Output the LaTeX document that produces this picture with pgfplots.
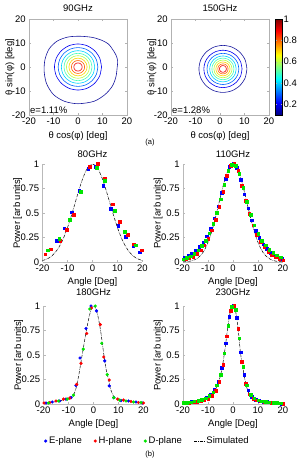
\documentclass[border=0pt]{standalone}
\usepackage{fontspec}
\setmainfont{Liberation Sans}
\usepackage{pgfplots}
\pgfplotsset{compat=1.18}
\definecolor{j1}{rgb}{0.1,0.1,0.62}
\definecolor{j2}{rgb}{0,0,0.94}
\definecolor{j3}{rgb}{0,0.39,1}
\definecolor{j4}{rgb}{0,0.83,1}
\definecolor{j5}{rgb}{0.28,1,0.72}
\definecolor{j6}{rgb}{0.72,1,0.28}
\definecolor{j7}{rgb}{1,0.83,0}
\definecolor{j8}{rgb}{1,0.39,0}
\definecolor{j9}{rgb}{0.94,0,0}
\pgfplotsset{
 /pgf/number format/assume math mode=true,
 cont/.style={scale only axis, width=98bp, height=96bp, clip=false,
  xmin=-20,xmax=20,ymin=-20,ymax=20,
  xtick={-20,-10,0,10,20}, ytick={-20,-10,0,10,20},
  tick align=inside, major tick length=2bp,
  axis line style={gray!60}, tick style={gray!60},
  xlabel={θ cos(φ) [deg]}, ylabel={θ sin(φ) [deg]},
  xlabel style={at={(axis description cs:0.5,0)}, anchor=base, yshift=-23.5bp},
  ylabel style={at={(axis description cs:-0.17,0.5)}, anchor=base},
  every axis plot/.append style={line width=0.6bp, smooth}},
 prof/.style={scale only axis, width=100bp, height=98bp,
  xmin=-20,xmax=20,ymin=0,ymax=1,
  axis x line*=bottom, axis y line*=left, tick pos=left,
  axis line style={-,gray!55}, tick style={gray!55},
  xtick={-20,-10,0,10,20}, ytick={0,0.25,0.5,0.75,1},
  yticklabels={0,0.25,0.5,0.75,1},
  tick align=inside, major tick length=2bp, clip=false,
  xlabel={Angle [Deg]}, ylabel={Power [arb units]},
  xlabel style={at={(axis description cs:0.5,0)}, anchor=base, yshift=-22.5bp},
  ylabel style={at={(axis description cs:-0.225,0.5)}, anchor=base}},
 ep/.style={only marks, mark=square*, mark size=1.3bp, blue, mark options={draw=blue, fill=blue}},
 hp/.style={only marks, mark=square*, mark size=1.3bp, red, mark options={draw=red, fill=red}},
 dp/.style={only marks, mark=square*, mark size=1.3bp, green!90!black, mark options={draw=green!90!black, fill=green!90!black}},
 sim/.style={black, densely dashdotted, line width=0.5bp, smooth, no marks},
 simleg/.style={legend image code/.code={\draw[##1] (0bp,0bp) -- (10bp,0bp);}},
}
\begin{document}
\fontsize{9.5bp}{11bp}\selectfont
\begin{tikzpicture}
\path[use as bounding box] (0,0) rectangle (300bp,459bp);
% ---------------- 90 GHz
\begin{axis}[cont, at={(29bp,344bp)}, anchor=south west]
\addplot[j1] coordinates {(16,0) (15.5,-4) (14,-8) (11,-11.5) (6.5,-14.3) (0,-15.3) (-5.5,-14.3) (-10,-11.5) (-12.8,-7) (-13.8,-2) (-13.5,3) (-11.8,7.5) (-8.5,10.8) (-4,12.5) (1,12.8) (6,12.3) (10,11) (12.5,9.5) (14,7.5) (15.5,5) (16.2,2.5) (16,0)};
\addplot[j2] coordinates {(9.6,0) (8.87,3.677) (6.787,6.787) (3.677,8.87) (0,9.6) (-3.677,8.87) (-6.787,6.787) (-8.87,3.677) (-9.6,0) (-8.87,-3.677) (-6.787,-6.787) (-3.677,-8.87) (0,-9.6) (3.677,-8.87) (6.787,-6.787) (8.87,-3.677) (9.6,0)};
\addplot[j3] coordinates {(8.1,0) (7.484,3.102) (5.727,5.727) (3.102,7.484) (0,8.1) (-3.102,7.484) (-5.727,5.727) (-7.484,3.102) (-8.1,0) (-7.484,-3.102) (-5.727,-5.727) (-3.102,-7.484) (0,-8.1) (3.102,-7.484) (5.727,-5.727) (7.484,-3.102) (8.1,0)};
\addplot[j4] coordinates {(6.8,0) (6.283,2.604) (4.808,4.808) (2.604,6.283) (0,6.8) (-2.604,6.283) (-4.808,4.808) (-6.283,2.604) (-6.8,0) (-6.283,-2.604) (-4.808,-4.808) (-2.604,-6.283) (0,-6.8) (2.604,-6.283) (4.808,-4.808) (6.283,-2.604) (6.8,0)};
\addplot[j5] coordinates {(5.7,0) (5.267,2.183) (4.03,4.03) (2.183,5.267) (0,5.7) (-2.183,5.267) (-4.03,4.03) (-5.267,2.183) (-5.7,0) (-5.267,-2.183) (-4.03,-4.03) (-2.183,-5.267) (0,-5.7) (2.183,-5.267) (4.03,-4.03) (5.267,-2.183) (5.7,0)};
\addplot[j6] coordinates {(4.7,0) (4.343,1.8) (3.323,3.323) (1.8,4.343) (0,4.7) (-1.8,4.343) (-3.323,3.323) (-4.343,1.8) (-4.7,0) (-4.343,-1.8) (-3.323,-3.323) (-1.8,-4.343) (0,-4.7) (1.8,-4.343) (3.323,-3.323) (4.343,-1.8) (4.7,0)};
\addplot[j7] coordinates {(3.7,0) (3.419,1.417) (2.616,2.616) (1.417,3.419) (0,3.7) (-1.417,3.419) (-2.616,2.616) (-3.419,1.417) (-3.7,0) (-3.419,-1.417) (-2.616,-2.616) (-1.417,-3.419) (0,-3.7) (1.417,-3.419) (2.616,-2.616) (3.419,-1.417) (3.7,0)};
\addplot[j8] coordinates {(2.7,0) (2.495,1.034) (1.909,1.909) (1.034,2.495) (0,2.7) (-1.034,2.495) (-1.909,1.909) (-2.495,1.034) (-2.7,0) (-2.495,-1.034) (-1.909,-1.909) (-1.034,-2.495) (0,-2.7) (1.034,-2.495) (1.909,-1.909) (2.495,-1.034) (2.7,0)};
\addplot[j9] coordinates {(1.7,0) (1.571,0.651) (1.202,1.202) (0.651,1.571) (0,1.7) (-0.651,1.571) (-1.202,1.202) (-1.571,0.651) (-1.7,0) (-1.571,-0.651) (-1.202,-1.202) (-0.651,-1.571) (0,-1.7) (0.651,-1.571) (1.202,-1.202) (1.571,-0.651) (1.7,0)};
\node[anchor=south west, inner sep=1bp] at (axis description cs:0,0) {e=1.11\%};
\node[anchor=base] at ([yshift=7.6bp]axis description cs:0.5,1) {90GHz};
\end{axis}
% ---------------- 150 GHz
\begin{axis}[cont, at={(171bp,344bp)}, anchor=south west,
  colorbar, colormap/jet, point meta min=0.1, point meta max=1,
  colorbar style={width=6.5bp, at={(parent axis.north east)}, anchor=north west, xshift=-2bp,
    ytick={0.2,0.4,0.6,0.8,1}, yticklabels={0.2,0.4,0.6,0.8,1},
    tick align=inside, major tick length=1.5bp, yticklabel style={inner sep=1.5bp}}]
\addplot[j1] coordinates {(11.0,-0.8) (10.26,2.95) (8.13,6.13) (4.95,8.26) (1.2,9.0) (-2.55,8.26) (-5.73,6.13) (-7.86,2.95) (-8.6,-0.8) (-7.86,-4.55) (-5.73,-7.73) (-2.55,-9.86) (1.2,-10.6) (4.95,-9.86) (8.13,-7.73) (10.26,-4.55) (11.0,-0.8)};
\addplot[j2] coordinates {(9.0,-0.8) (8.41,2.19) (6.72,4.72) (4.19,6.41) (1.2,7.0) (-1.79,6.41) (-4.32,4.72) (-6.01,2.19) (-6.6,-0.8) (-6.01,-3.79) (-4.32,-6.32) (-1.79,-8.01) (1.2,-8.6) (4.19,-8.01) (6.72,-6.32) (8.41,-3.79) (9.0,-0.8)};
\addplot[j3] coordinates {(7.7,-0.8) (7.21,1.69) (5.80,3.80) (3.69,5.21) (1.2,5.7) (-1.29,5.21) (-3.40,3.80) (-4.81,1.69) (-5.3,-0.8) (-4.81,-3.29) (-3.40,-5.40) (-1.29,-6.81) (1.2,-7.3) (3.69,-6.81) (5.80,-5.40) (7.21,-3.29) (7.7,-0.8)};
\addplot[j4] coordinates {(6.6,-0.8) (6.19,1.27) (5.02,3.02) (3.27,4.19) (1.2,4.6) (-0.87,4.19) (-2.62,3.02) (-3.79,1.27) (-4.2,-0.8) (-3.79,-2.87) (-2.62,-4.62) (-0.87,-5.79) (1.2,-6.2) (3.27,-5.79) (5.02,-4.62) (6.19,-2.87) (6.6,-0.8)};
\addplot[j5] coordinates {(5.7,-0.8) (5.36,0.92) (4.38,2.38) (2.92,3.36) (1.2,3.7) (-0.52,3.36) (-1.98,2.38) (-2.96,0.92) (-3.3,-0.8) (-2.96,-2.52) (-1.98,-3.98) (-0.52,-4.96) (1.2,-5.3) (2.92,-4.96) (4.38,-3.98) (5.36,-2.52) (5.7,-0.8)};
\addplot[j6] coordinates {(4.9,-0.8) (4.62,0.62) (3.82,1.82) (2.62,2.62) (1.2,2.9) (-0.22,2.62) (-1.42,1.82) (-2.22,0.62) (-2.5,-0.8) (-2.22,-2.22) (-1.42,-3.42) (-0.22,-4.22) (1.2,-4.5) (2.62,-4.22) (3.82,-3.42) (4.62,-2.22) (4.9,-0.8)};
\addplot[j7] coordinates {(4.1,-0.8) (3.88,0.31) (3.25,1.25) (2.31,1.88) (1.2,2.1) (0.09,1.88) (-0.85,1.25) (-1.48,0.31) (-1.7,-0.8) (-1.48,-1.91) (-0.85,-2.85) (0.09,-3.48) (1.2,-3.7) (2.31,-3.48) (3.25,-2.85) (3.88,-1.91) (4.1,-0.8)};
\addplot[j8] coordinates {(3.3,-0.8) (3.14,0.0) (2.69,0.69) (2.0,1.14) (1.2,1.3) (0.4,1.14) (-0.29,0.69) (-0.74,0.0) (-0.9,-0.8) (-0.74,-1.6) (-0.29,-2.29) (0.4,-2.74) (1.2,-2.9) (2.0,-2.74) (2.69,-2.29) (3.14,-1.6) (3.3,-0.8)};
\addplot[j9] coordinates {(2.6,-0.8) (2.49,-0.26) (2.19,0.19) (1.74,0.49) (1.2,0.6) (0.66,0.49) (0.21,0.19) (-0.09,-0.26) (-0.2,-0.8) (-0.09,-1.34) (0.21,-1.79) (0.66,-2.09) (1.2,-2.2) (1.74,-2.09) (2.19,-1.79) (2.49,-1.34) (2.6,-0.8)};
\node[anchor=south west, inner sep=1bp] at (axis description cs:0,0) {e=1.28\%};
\node[anchor=base] at ([yshift=7.6bp]axis description cs:0.5,1) {150GHz};
\end{axis}
\node[font=\fontsize{7.5bp}{9bp}\selectfont] at (150bp,316bp) {(a)};
% ---------------- 80 GHz
\begin{axis}[prof, at={(42.5bp,197bp)}, anchor=south west]
\addplot[sim] coordinates {(-20,0.015) (-18,0.033) (-16,0.068) (-14,0.128) (-12,0.22) (-10,0.35) (-8,0.511) (-6,0.685) (-4,0.845) (-2,0.959) (0,1) (2,0.959) (4,0.845) (6,0.685) (8,0.511) (10,0.35) (12,0.22) (14,0.128) (16,0.068) (18,0.033) (20,0.015)};
\addplot[ep] coordinates {(-17,0.13) (-14.3,0.22) (-11.3,0.345) (-8.3,0.51) (-5.4,0.73) (-1.8,0.95) (1.2,0.97) (4.3,0.78) (7.3,0.545) (10.3,0.37) (13.3,0.26) (16.3,0.165) (19,0.10)};
\addplot[hp] coordinates {(-19,0.08) (-16.7,0.13) (-13,0.22) (-10.4,0.33) (-7.6,0.48) (-1.1,0.97) (2,1.0) (4.9,0.85) (8,0.59) (10.9,0.41) (14,0.28) (16.6,0.18) (19.6,0.12)};
\addplot[dp] coordinates {(-18,0.12) (-13.4,0.24) (-9.1,0.43) (-4.7,0.72) (1.6,0.965) (4.9,0.83) (8.9,0.525) (12.9,0.31) (17.3,0.17)};
\node[anchor=base] at ([yshift=6.6bp]axis description cs:0.5,1) {80GHz};
\end{axis}
% ---------------- 110 GHz
\begin{axis}[prof, at={(183bp,197bp)}, anchor=south west]
\addplot[sim] coordinates {(-20,0.0016) (-18,0.0054) (-17,0.0095) (-16,0.016) (-15,0.027) (-14,0.043) (-13,0.066) (-12,0.098) (-11,0.143) (-10,0.2) (-9,0.271) (-8,0.357) (-7,0.454) (-6,0.56) (-5,0.669) (-4,0.773) (-3,0.865) (-2,0.938) (-1,0.984) (0,1) (1,0.984) (2,0.938) (3,0.865) (4,0.773) (5,0.669) (6,0.56) (7,0.454) (8,0.357) (9,0.271) (10,0.2) (11,0.143) (12,0.098) (13,0.066) (14,0.043) (15,0.027) (16,0.016) (17,0.0095) (18,0.0054) (20,0.0016)};
\addplot[ep] coordinates {(-19.5,0.05) (-18,0.065) (-16.5,0.088) (-15,0.115) (-13.5,0.155) (-12,0.2) (-10.5,0.265) (-9,0.34) (-7.5,0.445) (-6,0.57) (-4.5,0.71) (-3,0.85) (-1.5,0.97) (0,1.0) (1.5,0.96) (3,0.84) (4.5,0.69) (6,0.55) (7.5,0.425) (9,0.32) (10.5,0.245) (12,0.18) (13.5,0.135) (15,0.095) (16.5,0.068) (18,0.05) (19.5,0.035)};
\addplot[hp] coordinates {(-19,0.03) (-17.5,0.04) (-16,0.055) (-14.5,0.083) (-13,0.12) (-11.5,0.17) (-10,0.24) (-8.5,0.325) (-7,0.43) (-5.5,0.565) (-4,0.72) (-2.5,0.88) (-1,0.98) (0.5,1.0) (2,0.93) (3.5,0.78) (5,0.625) (6.5,0.49) (8,0.375) (9.5,0.28) (11,0.205) (12.5,0.15) (14,0.105) (15.5,0.07) (17,0.05) (18.5,0.035) (20,0.02)};
\addplot[dp] coordinates {(-20,0.03) (-18.5,0.045) (-17,0.06) (-15.5,0.085) (-14,0.12) (-12.5,0.165) (-11,0.22) (-9.5,0.295) (-8,0.39) (-6.5,0.505) (-5,0.64) (-3.5,0.79) (-2,0.93) (-0.5,0.995) (1,0.98) (2.5,0.9) (4,0.76) (5.5,0.615) (7,0.48) (8.5,0.375) (10,0.29) (11.5,0.22) (13,0.17) (14.5,0.128) (16,0.095) (17.5,0.07) (19,0.05)};
\node[anchor=base] at ([yshift=6.6bp]axis description cs:0.5,1) {110GHz};
\end{axis}
% ---------------- 180 GHz
\begin{axis}[prof, at={(43.5bp,55bp)}, anchor=south west,
  legend columns=4,
  legend style={at={(axis description cs:1.04,-0.378)}, anchor=center, draw=none, fill=none,
    /tikz/every even column/.append style={column sep=10bp}, inner sep=0pt},
  legend cell align=left]
\addplot[ep, mark=*, mark size=1.4bp] coordinates {(-19,0.01) (-16.5,0.02) (-13.5,0.03) (-11,0.05) (-9,0.065) (-7,0.19) (-5.4,0.47) (-3,0.77) (-1,1.0) (1.2,0.95) (4.5,0.44) (6.3,0.185) (8.1,0.065) (11,0.035) (14,0.03) (17,0.02) (19.5,0.01)};
\addlegendentry{E-plane}
\addplot[hp, mark=*, mark size=1.4bp] coordinates {(-19.8,0.01) (-17.5,0.015) (-15,0.03) (-12,0.05) (-9.5,0.06) (-6.7,0.20) (-5,0.415) (-2.7,0.72) (-0.8,0.98) (2.7,0.81) (4.1,0.48) (6.3,0.245) (9.7,0.05) (12,0.04) (15,0.025) (18,0.015) (20,0.01)};
\addlegendentry{H-plane}
\addplot[dp, mark=*, mark size=1.4bp] coordinates {(-18,0.01) (-14,0.03) (-10.5,0.05) (-8,0.09) (-4.1,0.56) (-1.5,0.97) (0.7,1.0) (3.3,0.62) (5.5,0.3) (8.1,0.065) (10.5,0.04) (13,0.03) (16,0.02) (19,0.015)};
\addlegendentry{D-plane}
\addplot[sim, simleg] coordinates {(-20,0.01) (-18,0.015) (-16,0.02) (-14,0.03) (-12,0.04) (-10,0.055) (-9,0.065) (-8,0.09) (-7,0.16) (-6,0.28) (-5,0.43) (-4,0.58) (-3,0.73) (-2,0.86) (-1,0.96) (0,1.0) (1,0.97) (2,0.87) (3,0.72) (4,0.53) (5,0.36) (6,0.25) (7,0.14) (8,0.08) (9,0.055) (10,0.045) (12,0.035) (14,0.03) (16,0.02) (18,0.015) (20,0.01)};
\addlegendentry{Simulated}
\node[anchor=base] at ([yshift=10bp]axis description cs:0.5,1) {180GHz};
\end{axis}
% ---------------- 230 GHz
\begin{axis}[prof, at={(183bp,55bp)}, anchor=south west]
\addplot[sim] coordinates {(-20,0.01) (-18,0.015) (-16,0.02) (-14,0.03) (-12,0.04) (-10,0.065) (-9,0.085) (-8,0.11) (-7,0.15) (-6,0.21) (-5,0.29) (-4,0.42) (-3,0.6) (-2,0.8) (-1,0.95) (0,1.0) (1,0.95) (2,0.78) (3,0.52) (4,0.36) (5,0.22) (6,0.13) (7,0.085) (8,0.06) (9,0.045) (10,0.035) (12,0.025) (14,0.02) (16,0.015) (18,0.01) (20,0.005)};
\addplot[ep] coordinates {(-19.5,0.015) (-18,0.02) (-16.5,0.025) (-15,0.03) (-13.5,0.04) (-12,0.05) (-10.5,0.07) (-9,0.095) (-7.5,0.145) (-6,0.23) (-4.5,0.37) (-3,0.62) (-1.5,0.89) (0,1.0) (1.5,0.88) (3,0.53) (4.5,0.30) (6,0.14) (7.5,0.075) (9,0.045) (10.5,0.033) (12,0.025) (13.5,0.021) (15,0.017) (16.5,0.013) (18,0.01) (19.5,0.006)};
\addplot[hp] coordinates {(-19,0.01) (-17.5,0.013) (-16,0.017) (-14.5,0.024) (-13,0.03) (-11.5,0.04) (-10,0.055) (-8.5,0.085) (-7,0.135) (-5.5,0.23) (-4,0.4) (-2.5,0.69) (-1,0.95) (0.5,1.0) (2,0.77) (3.5,0.43) (5,0.21) (6.5,0.10) (8,0.055) (9.5,0.038) (11,0.028) (12.5,0.022) (14,0.018) (15.5,0.015) (17,0.011) (18.5,0.008) (20,0.005)};
\addplot[dp] coordinates {(-20,0.012) (-18.5,0.016) (-17,0.02) (-15.5,0.027) (-14,0.035) (-12.5,0.045) (-11,0.06) (-9.5,0.085) (-8,0.12) (-6.5,0.19) (-5,0.3) (-3.5,0.52) (-2,0.8) (-0.5,0.99) (1,0.96) (2.5,0.67) (4,0.38) (5.5,0.19) (7,0.095) (8.5,0.06) (10,0.04) (11.5,0.03) (13,0.025) (14.5,0.02) (16,0.016) (17.5,0.013) (19,0.01)};
\node[anchor=base] at ([yshift=10bp]axis description cs:0.5,1) {230GHz};
\end{axis}
\node[font=\fontsize{7.5bp}{9bp}\selectfont] at (150bp,4bp) {(b)};
\end{tikzpicture}
\end{document}
